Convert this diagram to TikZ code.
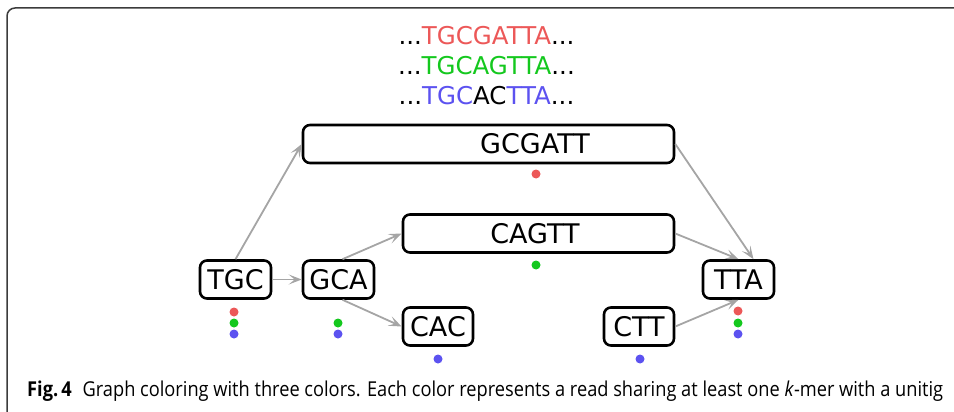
\documentclass[tikz,border=0pt]{standalone}
\usepackage{fontspec}
\setmainfont{DejaVu Sans}
\newfontfamily\capfont{Open Sans}
\usetikzlibrary{arrows.meta,calc}
\definecolor{cred}{RGB}{236,88,88}
\definecolor{cgreen}{RGB}{20,200,30}
\definecolor{cblue}{RGB}{92,82,240}
\definecolor{edgegray}{RGB}{165,165,165}
\definecolor{framegray}{RGB}{60,60,60}
\begin{document}
\begin{tikzpicture}[x=1pt,y=-1pt,
  kbox/.style={draw=black,line width=2.6pt,rounded corners=7pt,fill=white,
    minimum height=38pt,minimum width=71pt,inner xsep=6pt,inner ysep=0pt,
    font=\fontsize{27}{30}\selectfont},
  conn/.style={draw=edgegray,line width=1.8pt,
    -{Stealth[length=13pt,width=10pt,inset=6pt]}},
  seqtxt/.style={font=\fontsize{24.5}{28}\selectfont,anchor=base},
  cdot/.style={circle,fill=#1,inner sep=0pt,minimum size=9pt}]
\useasboundingbox (0,0) rectangle (954,412);
% frame
\draw[framegray,line width=1.5pt,rounded corners=8pt] (7,412) -- (7,8) -- (954,8);
% sequences
\node[seqtxt] (s1) at (486.5,45) {...\textcolor{cred}{TGCGATTA}...};
\node[seqtxt] (s2) at (486.5,75) {...\textcolor{cgreen}{TGCAGTTA}...};
\node[seqtxt] (s3) at (486.5,105) {...\textcolor{cblue}{TGC}AC\textcolor{cblue}{TTA}...};
% nodes
\node[kbox,minimum width=371pt] (gcgatt) at (488.5,144) {\hspace*{93pt}GCGATT};
\node[kbox,minimum width=271pt] (cagtt) at (538.5,233.5) {\hspace*{-7pt}CAGTT};
\node[kbox] (tgc) at (235.5,279.5) {TGC};
\node[kbox] (gca) at (338.5,279.5) {GCA};
\node[kbox,minimum width=70pt] (cac) at (438,326.5) {CAC};
\node[kbox,minimum width=70pt] (ctt) at (639,326.5) {CTT};
\node[kbox] (tta) at (738.5,279.5) {TTA};
% connectors
\draw[conn] (tgc.north) -- (gcgatt.west);
\draw[conn] (tgc.east) -- (gca.west);
\draw[conn] ([xshift=4pt]gca.north) -- (cagtt.west);
\draw[conn] ([xshift=4pt]gca.south) -- (cac.west);
\draw[conn] (gcgatt.east) -- ([xshift=15pt]tta.north);
\draw[conn] (cagtt.east) -- (tta.north);
\draw[conn] (ctt.east) -- (tta.south);
% colour dots
\node[cdot=cred] (d1) at (536,174) {};
\node[cdot=cgreen] (d2) at (536,265) {};
\node[cdot=cred] (d3) at (234,312) {};
\node[cdot=cgreen] (d4) at (234,323) {};
\node[cdot=cblue] (d5) at (234,334) {};
\node[cdot=cgreen] (d6) at (338,323) {};
\node[cdot=cblue] (d7) at (338,334) {};
\node[cdot=cblue] (d8) at (438,359) {};
\node[cdot=cblue] (d9) at (640,359) {};
\node[cdot=cred] (d10) at (738,311) {};
\node[cdot=cgreen] (d11) at (738,323) {};
\node[cdot=cblue] (d12) at (738,334) {};
% caption
\node[anchor=base west,inner sep=0pt,font=\capfont\fontsize{20.5}{24}\selectfont] (cap) at (27,396.5)
  {\resizebox{916pt}{\height}{\textbf{Fig.\,4}\hspace{0.6em}Graph coloring with three colors. Each color represents a read sharing at least one \textit{k}-mer with a unitig}};
\end{tikzpicture}
\end{document}
